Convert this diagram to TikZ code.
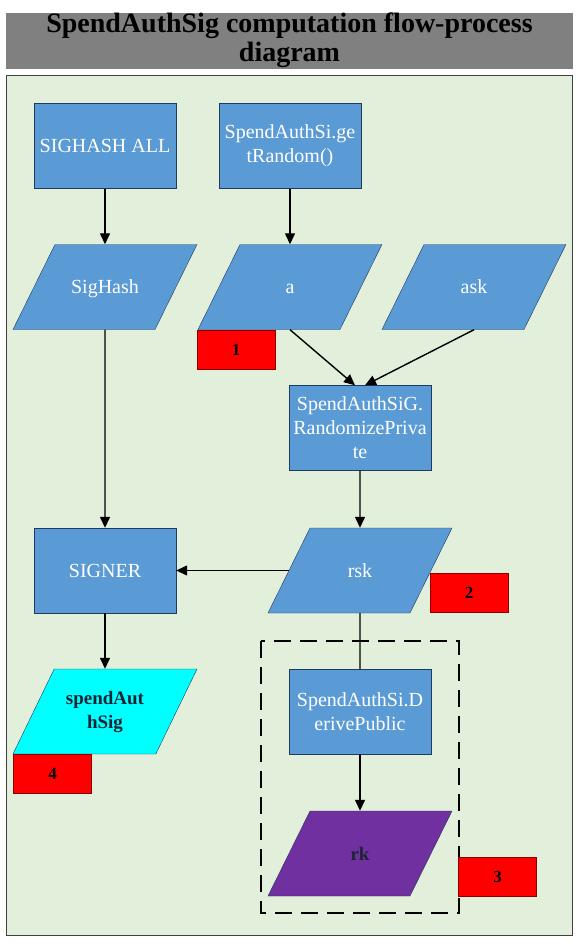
\documentclass[tikz,border=0pt]{standalone}
\usepackage{fontspec}
\setmainfont{Liberation Serif}
\usetikzlibrary{shapes.geometric,arrows.meta}
\definecolor{titlegray}{HTML}{808080}
\definecolor{panelgreen}{HTML}{E2EFDA}
\definecolor{boxblue}{HTML}{5B9BD5}
\definecolor{boxedge}{HTML}{1F3A5F}
\definecolor{sigcyan}{HTML}{00FFFF}
\definecolor{rkpurple}{HTML}{7030A0}
\definecolor{darktext}{HTML}{1C2433}
\definecolor{tagedge}{HTML}{8B0000}
\tikzset{
	proc/.style={draw=boxedge,fill=boxblue,text=white,minimum width=142pt,minimum height=85pt,
		inner sep=1pt,align=center,font=\fontsize{20}{24}\selectfont},
	data/.style={trapezium,trapezium left angle=63.7,trapezium right angle=116.3,
		trapezium stretches body,draw=boxedge,fill=boxblue,text=white,
		text height=16pt,text depth=3pt,inner xsep=2pt,inner ysep=33pt,
		minimum width=184pt,minimum height=85pt,align=center,
		font=\fontsize{20}{24}\selectfont},
	result/.style={data,fill=#1,text=darktext,font=\bfseries\fontsize{19}{24}\selectfont},
	tag/.style={draw=tagedge,fill=red,minimum width=78pt,minimum height=39pt,
		font=\bfseries\fontsize{17}{20}\selectfont},
	flow/.style={black,line width=1.4pt,-{Triangle[length=11pt,width=10pt]}},
	plain/.style={black,line width=1.4pt}
}
\begin{document}
\begin{tikzpicture}[x=1pt,y=-1pt]
\useasboundingbox (0,0) rectangle (580,947);
\fill[white] (0,0) rectangle (580,947);
%Titel
\fill[titlegray] (6,13) rectangle (573,69);
\node[font=\bfseries\fontsize{28}{29}\selectfont,align=center] (title) at (289.5,40) {SpendAuthSig computation flow-process\\diagram};
\draw[fill=panelgreen,draw=black!75,line width=0.8pt] (6,75) rectangle (572,935);
%\draw[step=10pt,very thin,black!20] (0,0) grid(580,947);
\node[proc] (sighashall) at (105,146) {SIGHASH ALL};
\node[proc] (getrandom) at (290,146) {SpendAuthSi.ge\\tRandom()};
\node[data] (sighash) at (105,287) {SigHash};
\node[data] (a) at (290,287) {a};
\node[data] (ask) at (474,287) {ask};
\node[tag] (tagone) at (236,349.5) {1};
\node[proc] (randpriv) at (360,428) {SpendAuthSiG.\\RandomizePriva\\te};
\node[data] (rsk) at (360,570.5) {rsk};
\node[tag] (tagtwo) at (469,593) {2};
\node[proc] (signer) at (105,570.5) {SIGNER};
\node[result=sigcyan,text height=,text depth=,inner ysep=21pt] (spendauthsig) at (105,711.5) {spendAut\\hSig};
\node[tag] (tagfour) at (52.5,774) {4};
\draw[black,line width=2.6pt,dash pattern=on 17pt off 9pt] (261,641) rectangle (459,913);
\node[proc] (derive) at (360,711.5) {SpendAuthSi.D\\erivePublic};
\node[result=rkpurple] (rk) at (360,853.5) {rk};
\node[tag] (tagthree) at (497.5,876.5) {3};
\draw[flow] (sighashall) -- (sighash);
\draw[flow] (getrandom) -- (a);
\draw[flow] (sighash.south) -- (signer);
\draw[flow] (a.south) -- ([xshift=-5pt]randpriv.north);
\draw[flow] (ask.south) -- ([xshift=5pt]randpriv.north);
\draw[flow] (randpriv) -- (rsk);
\draw[flow] (rsk.left side) -- (signer);
\draw[flow] (signer) -- (spendauthsig);
\draw[plain] (rsk.south) -- (derive);
\draw[flow] (derive) -- (rk);
\end{tikzpicture}
\end{document}
